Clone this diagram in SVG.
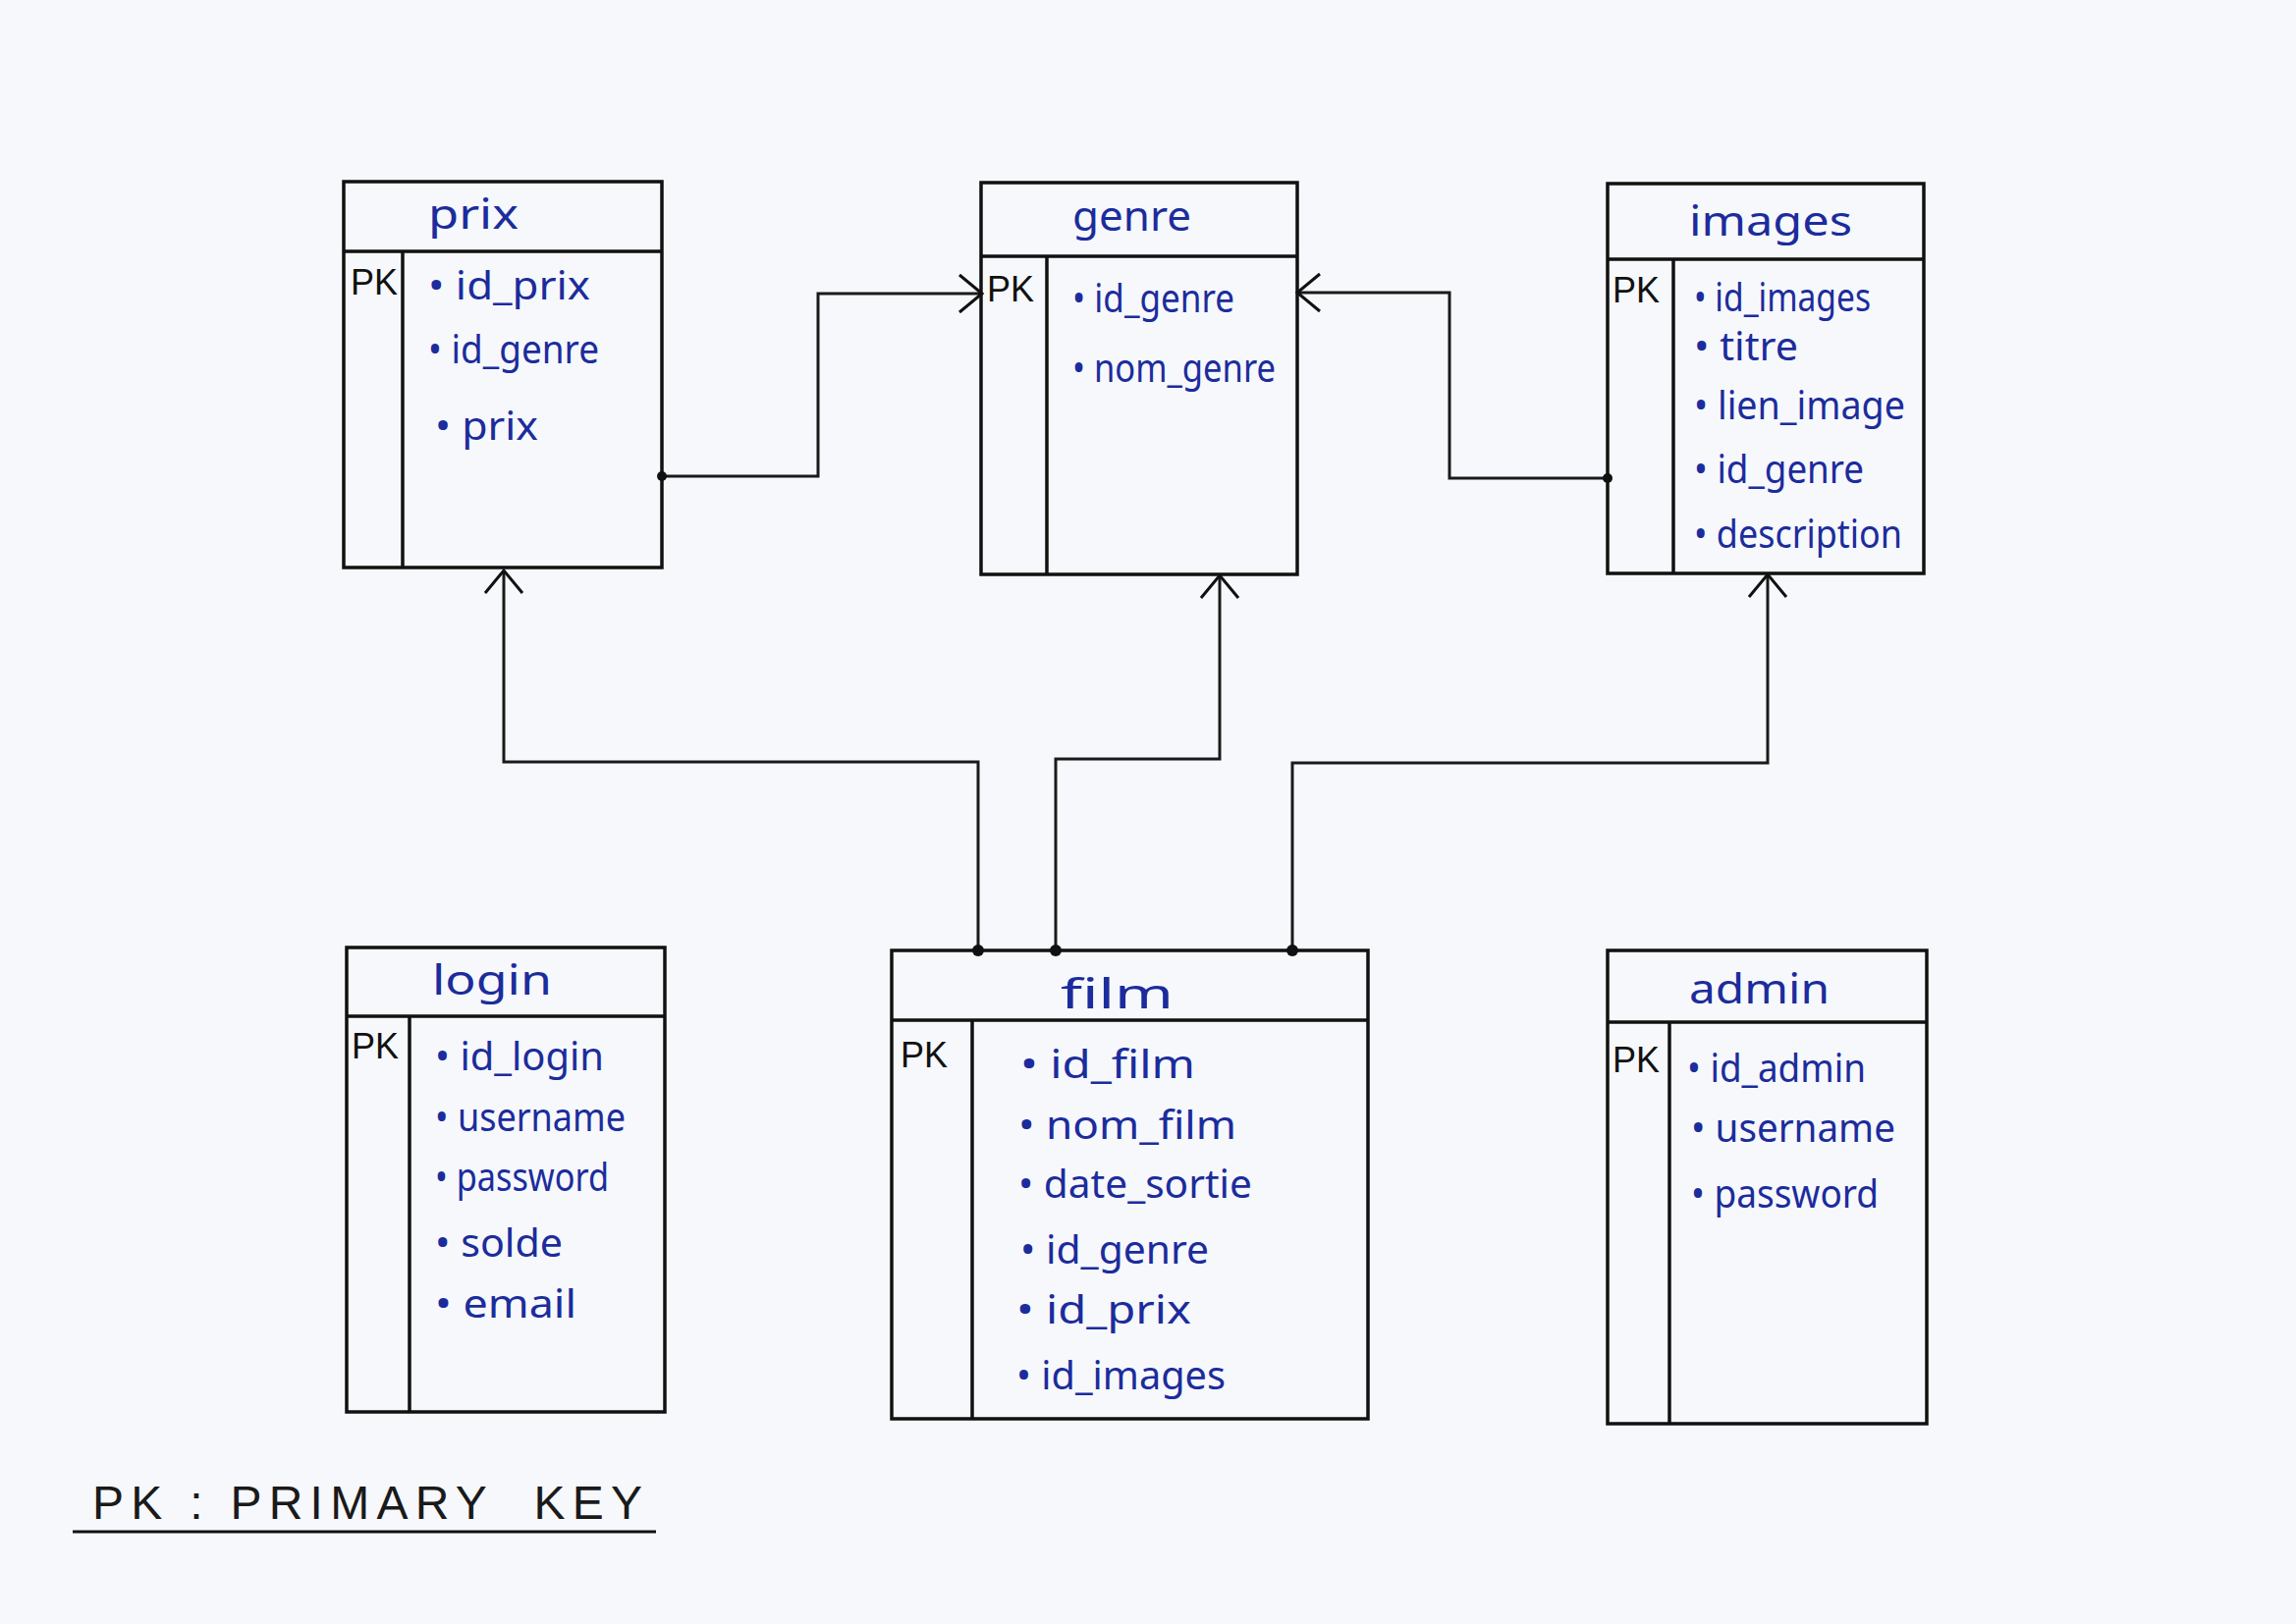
<svg xmlns="http://www.w3.org/2000/svg" width="2338" height="1654" viewBox="0 0 2338 1654">
<style>
.box{fill:none;stroke:#111;stroke-width:3.5}
.ln{stroke:#111;stroke-width:3.5}
.con{fill:none;stroke:#1a1a1a;stroke-width:3}
.t,.h{font-family:"Noto Sans","DejaVu Sans",sans-serif;fill:#1c2c9c;font-variant-ligatures:none}
.t{font-size:40px}
.h{font-size:42px}
.pk{font-family:"Liberation Sans","DejaVu Sans",sans-serif;font-size:36px;fill:#111}
.leg{font-family:"Liberation Sans","DejaVu Sans",sans-serif;font-size:48px;fill:#1a1a1a}
.dot{fill:#111}
</style>
<defs>
<marker id="arr" markerUnits="userSpaceOnUse" viewBox="0 0 30 44" markerWidth="30" markerHeight="44" refX="27" refY="22" orient="auto">
<path d="M4,3 L27,22 L4,41" fill="none" stroke="#111" stroke-width="3"/>
</marker>
</defs>
<rect x="0" y="0" width="2338" height="1654" fill="#f6f8fb"/>

<g id="connectors">
<path class="con" d="M674,485 H833 V299 H1000" marker-end="url(#arr)"/>
<path class="con" d="M1637,487 H1476 V298 H1321" marker-end="url(#arr)"/>
<path class="con" d="M996,968 V776 H513 V581" marker-end="url(#arr)"/>
<path class="con" d="M1075,968 V773 H1242 V586" marker-end="url(#arr)"/>
<path class="con" d="M1316,968 V777 H1800 V585" marker-end="url(#arr)"/>
<circle class="dot" cx="674" cy="485" r="5"/>
<circle class="dot" cx="1637" cy="487" r="5"/>
<circle class="dot" cx="996" cy="968" r="6"/>
<circle class="dot" cx="1075" cy="968" r="6"/>
<circle class="dot" cx="1316" cy="968" r="6"/>
</g>

<g id="prix">
<rect class="box" x="350" y="185" width="324" height="393"/>
<line class="ln" x1="350" y1="256" x2="674" y2="256"/>
<line class="ln" x1="410" y1="256" x2="410" y2="578"/>
<text class="h" x="436" y="233" textLength="92" lengthAdjust="spacingAndGlyphs">prix</text>
<text class="pk" x="357" y="300">PK</text>
<text class="t" x="436" y="305" textLength="165" lengthAdjust="spacingAndGlyphs">• id_prix</text>
<text class="t" x="436" y="370" textLength="174" lengthAdjust="spacingAndGlyphs">• id_genre</text>
<text class="t" x="443" y="448" textLength="105" lengthAdjust="spacingAndGlyphs">• prix</text>
</g>

<g id="genre">
<rect class="box" x="999" y="186" width="322" height="399"/>
<line class="ln" x1="999" y1="261" x2="1321" y2="261"/>
<line class="ln" x1="1066" y1="261" x2="1066" y2="585"/>
<text class="h" x="1092" y="235" textLength="121" lengthAdjust="spacingAndGlyphs">genre</text>
<text class="pk" x="1005" y="307">PK</text>
<text class="t" x="1092" y="318" textLength="165" lengthAdjust="spacingAndGlyphs">• id_genre</text>
<text class="t" x="1092" y="389" textLength="207" lengthAdjust="spacingAndGlyphs">• nom_genre</text>
</g>

<g id="images">
<rect class="box" x="1637" y="187" width="322" height="397"/>
<line class="ln" x1="1637" y1="264" x2="1959" y2="264"/>
<line class="ln" x1="1704" y1="264" x2="1704" y2="584"/>
<text class="h" x="1720" y="240" textLength="166" lengthAdjust="spacingAndGlyphs">images</text>
<text class="pk" x="1642" y="308">PK</text>
<text class="t" x="1725" y="317" textLength="180" lengthAdjust="spacingAndGlyphs">• id_images</text>
<text class="t" x="1725" y="367" textLength="106" lengthAdjust="spacingAndGlyphs">• titre</text>
<text class="t" x="1725" y="427" textLength="215" lengthAdjust="spacingAndGlyphs">• lien_image</text>
<text class="t" x="1725" y="492" textLength="173" lengthAdjust="spacingAndGlyphs">• id_genre</text>
<text class="t" x="1725" y="558" textLength="212" lengthAdjust="spacingAndGlyphs">• description</text>
</g>

<g id="login">
<rect class="box" x="353" y="965" width="324" height="473"/>
<line class="ln" x1="353" y1="1035" x2="677" y2="1035"/>
<line class="ln" x1="417" y1="1035" x2="417" y2="1438"/>
<text class="h" x="440" y="1013" textLength="122" lengthAdjust="spacingAndGlyphs">login</text>
<text class="pk" x="358" y="1078">PK</text>
<text class="t" x="443" y="1090" textLength="172" lengthAdjust="spacingAndGlyphs">• id_login</text>
<text class="t" x="443" y="1152" textLength="194" lengthAdjust="spacingAndGlyphs">• username</text>
<text class="t" x="443" y="1213" textLength="177" lengthAdjust="spacingAndGlyphs">• password</text>
<text class="t" x="443" y="1280" textLength="130" lengthAdjust="spacingAndGlyphs">• solde</text>
<text class="t" x="443" y="1342" textLength="144" lengthAdjust="spacingAndGlyphs">• email</text>
</g>

<g id="film">
<rect class="box" x="908" y="968" width="485" height="477"/>
<line class="ln" x1="908" y1="1039" x2="1393" y2="1039"/>
<line class="ln" x1="990" y1="1039" x2="990" y2="1445"/>
<text class="h" x="1080" y="1027" textLength="115" lengthAdjust="spacingAndGlyphs">film</text>
<text class="pk" x="917" y="1087">PK</text>
<text class="t" x="1039" y="1098" textLength="178" lengthAdjust="spacingAndGlyphs">• id_film</text>
<text class="t" x="1037" y="1160" textLength="222" lengthAdjust="spacingAndGlyphs">• nom_film</text>
<text class="t" x="1037" y="1220" textLength="238" lengthAdjust="spacingAndGlyphs">• date_sortie</text>
<text class="t" x="1039" y="1287" textLength="192" lengthAdjust="spacingAndGlyphs">• id_genre</text>
<text class="t" x="1035" y="1348" textLength="178" lengthAdjust="spacingAndGlyphs">• id_prix</text>
<text class="t" x="1035" y="1415" textLength="213" lengthAdjust="spacingAndGlyphs">• id_images</text>
</g>

<g id="admin">
<rect class="box" x="1637" y="968" width="325" height="482"/>
<line class="ln" x1="1637" y1="1041" x2="1962" y2="1041"/>
<line class="ln" x1="1700" y1="1041" x2="1700" y2="1450"/>
<text class="h" x="1720" y="1022" textLength="143" lengthAdjust="spacingAndGlyphs">admin</text>
<text class="pk" x="1642" y="1092">PK</text>
<text class="t" x="1718" y="1102" textLength="182" lengthAdjust="spacingAndGlyphs">• id_admin</text>
<text class="t" x="1722" y="1163" textLength="208" lengthAdjust="spacingAndGlyphs">• username</text>
<text class="t" x="1722" y="1230" textLength="191" lengthAdjust="spacingAndGlyphs">• password</text>
</g>

<g id="legend">
<text class="leg" x="94" y="1547" textLength="560" xml:space="preserve">PK : PRIMARY  KEY</text>
<line x1="74" y1="1560" x2="668" y2="1560" stroke="#111" stroke-width="3"/>
</g>
</svg>
